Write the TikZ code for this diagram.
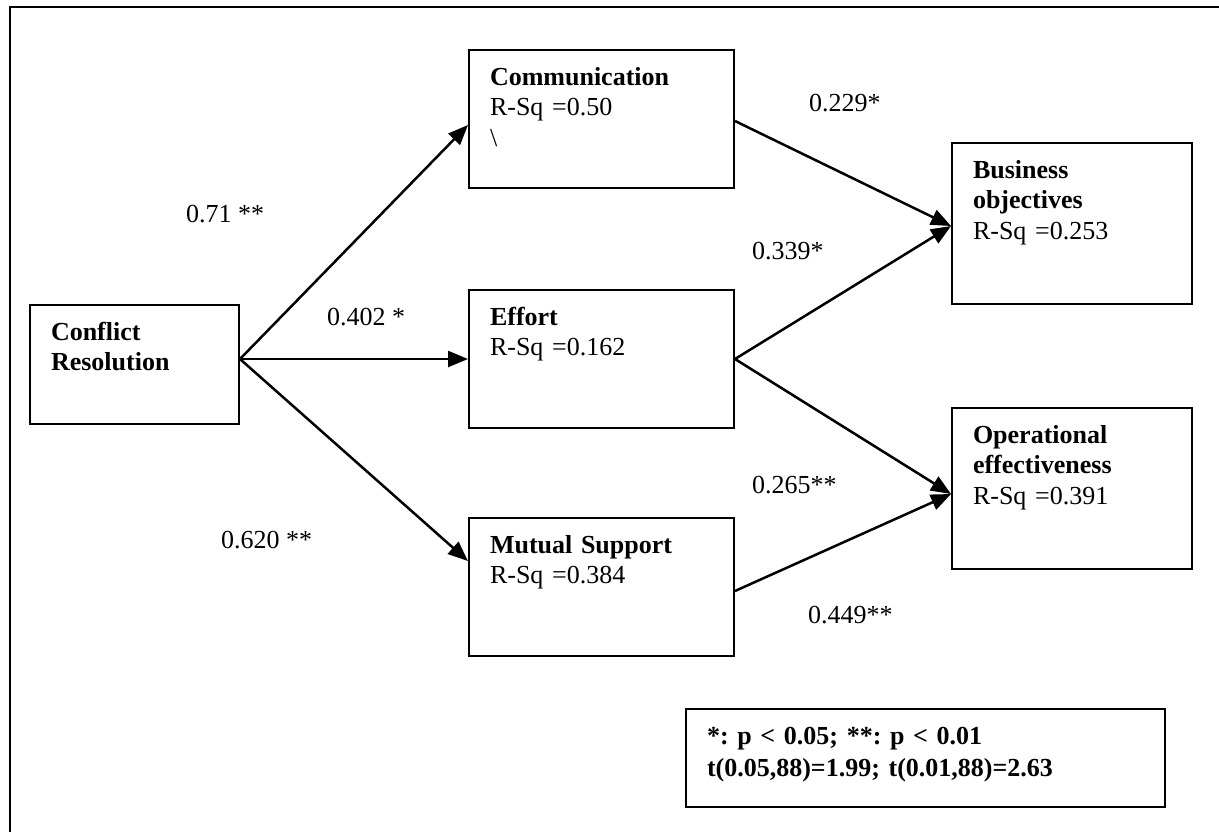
\documentclass[tikz,border=0pt]{standalone}
\usepackage{fontspec}
\setmainfont{Liberation Serif}
\usetikzlibrary{arrows.meta}
\newcommand{\legendfont}{\fontsize{26}{32}\selectfont\bfseries\frenchspacing\spaceskip 3.5pt plus 1pt\relax}
\tikzstyle{cbox}   = [draw=black, line width=2pt, anchor=north west, inner xsep=21pt, inner ysep=0pt, align=left, text height=35pt, font=\fontsize{26}{30.5}\selectfont\frenchspacing]
\tikzstyle{cval}   = [anchor=base west, inner sep=0pt, font=\fontsize{26}{30.5}\selectfont]
\tikzstyle{carrow} = [line width=2.5pt, -{Triangle[length=20pt,width=16pt]}]
\begin{document}
\begin{tikzpicture}[x=1pt,y=-1pt]
    \useasboundingbox (0,0) rectangle (1219,831);
    % frame, cut at the right and at the bottom
    \draw[line width=2.5pt] (1230,7) -- (10,7) -- (10,840);
    \node[cbox, text width=167pt, text depth=84pt] (cr) at (29,304) {\textbf{Conflict}\\\textbf{Resolution}};
    \node[cbox, text width=223pt, text depth=103pt] (comm) at (468,49) {\textbf{Communication}\\R-Sq =0.50\\\textbackslash};
    \node[cbox, text width=223pt, text depth=103pt] (effort) at (468,289) {\textbf{Effort}\\R-Sq =0.162};
    \node[cbox, text width=223pt, text depth=103pt] (mutual) at (468,517) {\textbf{Mutual Support}\\R-Sq =0.384};
    \node[cbox, text width=198pt, text depth=126pt] (busobj) at (951,142) {\textbf{Business}\\\textbf{objectives}\\R-Sq =0.253};
    \node[cbox, text width=198pt, text depth=126pt] (opeff) at (951,407) {\textbf{Operational}\\\textbf{effectiveness}\\R-Sq =0.391};
    \node[cbox, text width=437pt, text depth=63pt, font=\legendfont] (note) at (685,708)
      {*: p < 0.05; **: p < 0.01\\t(0.05,88)=1.99; t(0.01,88)=2.63};
    % paths
    \draw[carrow] ([yshift=5.5pt]cr.east) -- ([yshift=-6pt]comm.west);
    \draw[carrow] ([yshift=5.5pt]cr.east) -- (effort.west);
    \draw[carrow] ([yshift=5.5pt]cr.east) -- ([yshift=26pt]mutual.west);
    \draw[carrow] ([yshift=-2pt]comm.east) -- ([yshift=-2.5pt]busobj.west);
    \draw[carrow] (effort.east) -- ([yshift=-2.5pt]busobj.west);
    \draw[carrow] (effort.east) -- ([yshift=-5.5pt]opeff.west);
    \draw[carrow] ([yshift=-4pt]mutual.east) -- ([yshift=-5.5pt]opeff.west);
    % coefficients
    \node[cval] (vcomm)   at (186,222) {0.71 **};
    \node[cval] (veffort) at (327,325) {0.402 *};
    \node[cval] (vmutual) at (221,548) {0.620 **};
    \node[cval] (vcb)     at (809,111) {0.229*};
    \node[cval] (veb)     at (752,259) {0.339*};
    \node[cval] (veo)     at (752,493) {0.265**};
    \node[cval] (vmo)     at (808,623) {0.449**};
\end{tikzpicture}
\end{document}
